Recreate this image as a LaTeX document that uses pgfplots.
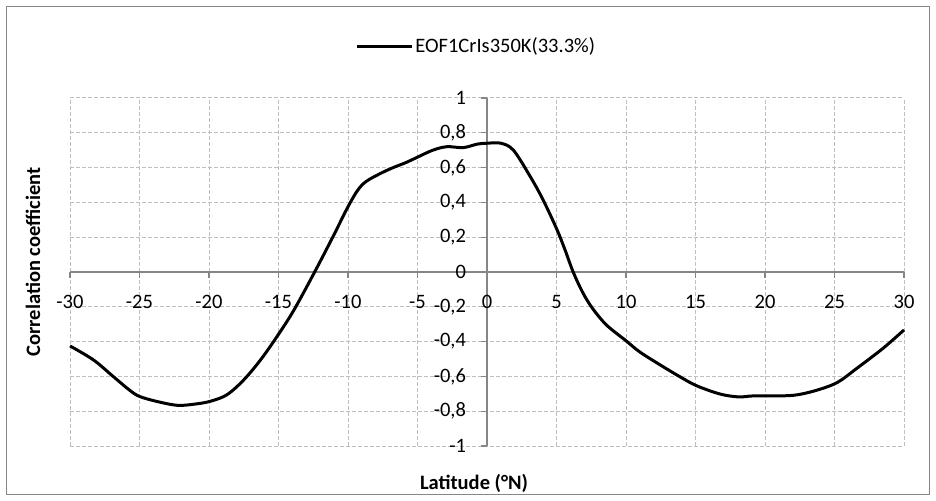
\documentclass[border=0pt]{standalone}
\usepackage{fontspec}
\setmainfont{Carlito}
\usepackage{pgfplots}
\pgfplotsset{compat=1.18}
\definecolor{axgray}{HTML}{868686}
\definecolor{gridgray}{HTML}{BFBFBF}
\begin{document}
\fontsize{20.5bp}{24bp}\selectfont
\begin{tikzpicture}
\useasboundingbox (0,0) rectangle (936bp,501bp);
\draw[axgray, line width=1.5bp] (6.5bp,6.5bp) rectangle (929.5bp,494.5bp);
\begin{axis}[
  at={(70bp,55bp)}, anchor=south west,
  scale only axis, width=834bp, height=348bp,
  xmin=-30, xmax=30, ymin=-1, ymax=1,
  axis lines=middle,
  axis line style={-, axgray, line width=1.3bp},
  xtick={-30,-25,...,30},
  ytick={-1,-0.8,-0.6,-0.4,-0.2,0,0.2,0.4,0.6,0.8,1},
  hide obscured x ticks=false, hide obscured y ticks=false,
  tick style={axgray, line width=1.3bp},
  tick align=outside, major tick length=6bp,
  grid=major,
  major grid style={gridgray, line width=1bp, dash pattern=on 4bp off 2bp},
  /pgf/number format/assume math mode=true,
  /pgf/number format/use comma,
  xticklabel style={anchor=north, yshift=-10bp},
  yticklabel style={anchor=east, xshift=-8bp},
  xlabel={\bfseries Latitude (°N)},
  ylabel={\bfseries Correlation coefficient},
  xlabel style={at={(axis description cs:0.4844,-0.109)}, anchor=center},
  ylabel style={at={(axis description cs:-0.0444,0.529)}, anchor=center, rotate=90},
  legend style={at={(axis description cs:0.3420,1.1474)}, anchor=west, draw=none, fill=none, inner sep=0pt},
  legend image code/.code={\draw[#1] (0bp,0bp) -- (55bp,0bp);},
  clip=false,
]
\addplot[black, line width=3bp, smooth, tension=0.55] coordinates {
(-30,-0.425) (-28.3,-0.506) (-26.9,-0.6) (-25.7,-0.68) (-25,-0.715)
(-23.8,-0.743) (-22.3,-0.766) (-21.1,-0.76) (-19.9,-0.743) (-18.7,-0.705)
(-17.5,-0.62) (-16.3,-0.506) (-15.1,-0.37) (-13.9,-0.22)
(-12.4,0) (-11.1,0.2) (-10,0.375) (-9.3,0.47) (-8.7,0.52) (-7.7,0.565)
(-6.75,0.60) (-5.8,0.63) (-5,0.66) (-3.9,0.70) (-2.9,0.72) (-1.7,0.715)
(-0.7,0.735) (0,0.74) (1.0,0.74) (1.9,0.70) (3.1,0.55) (4.0,0.42)
(5.0,0.25) (5.6,0.13) (6.2,0) (6.9,-0.12) (7.6,-0.21) (8.6,-0.305) (10,-0.395)
(11,-0.46) (12.5,-0.536) (13.9,-0.603) (15,-0.651) (16.3,-0.69)
(17.2,-0.709) (18.2,-0.718) (19.2,-0.712) (21.1,-0.712) (22.3,-0.706)
(23.7,-0.68) (25.2,-0.635) (26.6,-0.554) (28.5,-0.438) (30,-0.333)
};
\addlegendentry{EOF1CrIs350K(33.3\%)}
\end{axis}
\end{tikzpicture}
\end{document}
